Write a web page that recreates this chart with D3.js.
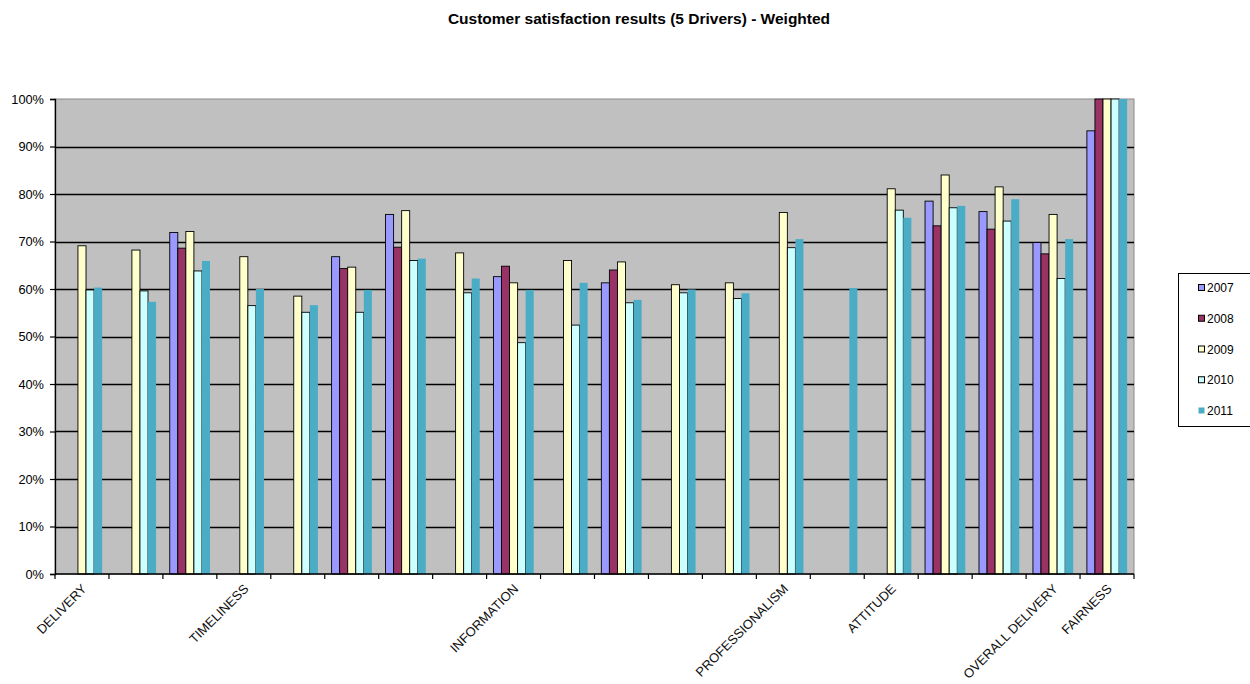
<!DOCTYPE html>
<html>
<head>
<meta charset="utf-8">
<script src="https://cdn.jsdelivr.net/npm/d3@7"></script>
<style>
  html, body { margin: 0; padding: 0; background: #fff; }
  svg { display: block; font-family: "Liberation Sans", Arial, sans-serif; }
</style>
</head>
<body>
<svg id="chart" width="1250" height="684"></svg>
<script>
// ---- Data ----
const title = "Customer satisfaction results (5 Drivers) - Weighted";
const categories = ["DELIVERY", "", "", "TIMELINESS", "", "", "", "", "INFORMATION", "", "", "", "", "PROFESSIONALISM", "", "ATTITUDE", "", "", "OVERALL DELIVERY", "FAIRNESS"];
const years = ["2007", "2008", "2009", "2010", "2011"];
const v2007 = [null, null, 71.9, null, null, 66.8, 75.7, null, 62.6, null, 61.3, null, null, null, null, null, 78.5, 76.3, 69.8, 93.3];
const v2008 = [null, null, 68.6, null, null, 64.3, 68.8, null, 64.8, null, 64.0, null, null, null, null, null, 73.3, 72.6, 67.4, 100];
const v2009 = [69.1, 68.2, 72.1, 66.8, 58.5, 64.6, 76.5, 67.6, 61.3, 66.0, 65.7, 60.9, 61.3, 76.1, null, 81.1, 84.0, 81.5, 75.7, 100];
const v2010 = [59.8, 59.6, 63.8, 56.5, 55.1, 55.1, 66.0, 59.2, 48.7, 52.4, 57.1, 59.2, 58.0, 68.7, null, 76.6, 77.1, 74.3, 62.2, 100];
const v2011 = [60.3, 57.3, 65.9, 60.0, 56.6, 59.8, 66.4, 62.2, 59.8, 61.3, 57.7, 59.9, 59.1, 70.5, 60.2, 75.0, 77.5, 78.9, 70.5, 100];
const yTicks = [0, 0.1, 0.2, 0.3, 0.4, 0.5, 0.6, 0.7, 0.8, 0.9, 1.0];

const seriesValues = [v2007, v2008, v2009, v2010, v2011];
const colors = ["#9999FF", "#993366", "#FFFFCC", "#CCFFFF", "#4BACC6"];
const strokes = ["#000", "#000", "#000", "#000", "none"];

// ---- Layout ----
const svg = d3.select("#chart");
const plot = { left: 55, right: 1134, top: 99, bottom: 574 };

const x0 = d3.scaleBand().domain(d3.range(categories.length)).range([plot.left, plot.right]).padding(0);
const x1 = d3.scaleBand().domain(years).range([0, x0.bandwidth()]).paddingInner(0).paddingOuter(0.85);
const y = d3.scaleLinear().domain([0, 1]).range([plot.bottom, plot.top]);

// Title
svg.append("text")
  .attr("x", 639).attr("y", 24)
  .attr("text-anchor", "middle")
  .attr("font-size", 15.5).attr("font-weight", "bold")
  .attr("fill", "#000")
  .text(title);

// Plot background
svg.append("rect")
  .attr("x", plot.left).attr("y", plot.top)
  .attr("width", plot.right - plot.left).attr("height", plot.bottom - plot.top)
  .attr("fill", "#C0C0C0").attr("stroke", "#8a8a8a").attr("stroke-width", 1);

// Gridlines
svg.append("g").selectAll("line")
  .data(yTicks.filter(d => d > 0 && d < 1))
  .join("line")
  .attr("x1", plot.left).attr("x2", plot.right)
  .attr("y1", d => Math.round(y(d)) + 0.5).attr("y2", d => Math.round(y(d)) + 0.5)
  .attr("stroke", "#000").attr("stroke-width", 1.3);

// Bars
const flat = [];
categories.forEach((c, i) => {
  years.forEach((yr, s) => {
    const v = seriesValues[s][i];
    if (v !== null && v !== undefined) flat.push({ i, yr, s, v: v / 100 });
  });
});

svg.append("g").selectAll("rect")
  .data(flat)
  .join("rect")
  .attr("x", d => x0(d.i) + x1(d.yr))
  .attr("y", d => y(d.v))
  .attr("width", x1.bandwidth())
  .attr("height", d => y(0) - y(d.v))
  .attr("fill", d => colors[d.s])
  .attr("stroke", d => strokes[d.s])
  .attr("stroke-width", 0.9);

// Y axis
const yAxis = d3.axisLeft(y).tickValues(yTicks).tickFormat(d3.format(".0%")).tickSize(5).tickPadding(6);
const gy = svg.append("g").attr("transform", `translate(${plot.left},0)`).call(yAxis);
gy.select(".domain").attr("stroke", "#000").attr("stroke-width", 1.3);
gy.selectAll(".tick line").attr("stroke", "#000").attr("stroke-width", 1.2);
gy.selectAll(".tick text").attr("font-size", 12.8).attr("fill", "#000")
  .attr("font-family", "'Liberation Sans', Arial, sans-serif");

// X axis: ticks at category boundaries
const boundaries = d3.range(categories.length + 1).map(i => plot.left + i * x0.step());
const gx = svg.append("g");
gx.append("line")
  .attr("x1", plot.left).attr("x2", plot.right)
  .attr("y1", plot.bottom).attr("y2", plot.bottom)
  .attr("stroke", "#000").attr("stroke-width", 1.3);
gx.selectAll("line.tk").data(boundaries).join("line")
  .attr("class", "tk")
  .attr("x1", d => d).attr("x2", d => d)
  .attr("y1", plot.bottom).attr("y2", plot.bottom + 5)
  .attr("stroke", "#000").attr("stroke-width", 1.2);

// Category labels (rotated -45)
gx.selectAll("text").data(categories.map((c, i) => ({ c, i })).filter(d => d.c !== ""))
  .join("text")
  .attr("transform", d => `translate(${x0(d.i) + x0.bandwidth() / 2 - 1},${plot.bottom + 9}) rotate(-45)`)
  .attr("text-anchor", "end")
  .attr("dy", "0.71em")
  .attr("font-size", 13)
  .attr("fill", "#111")
  .text(d => d.c);

// Legend
const lg = svg.append("g");
lg.append("rect")
  .attr("x", 1178.5).attr("y", 273.5)
  .attr("width", 90).attr("height", 153)
  .attr("fill", "#fff").attr("stroke", "#000").attr("stroke-width", 1);
const ly = d3.scalePoint().domain(years).range([288, 411]);
const items = lg.selectAll("g.item").data(years).join("g")
  .attr("class", "item")
  .attr("transform", d => `translate(1198,${ly(d)})`);
items.append("rect")
  .attr("x", 0.5).attr("y", -3.5)
  .attr("width", 6).attr("height", 6)
  .attr("fill", (d, i) => colors[i])
  .attr("stroke", (d, i) => strokes[i] === "none" ? "none" : "#000")
  .attr("stroke-width", 1);
items.append("text")
  .attr("x", 9).attr("y", 0).attr("dy", "0.35em")
  .attr("font-size", 12).attr("fill", "#000")
  .text(d => d);
</script>
</body>
</html>
